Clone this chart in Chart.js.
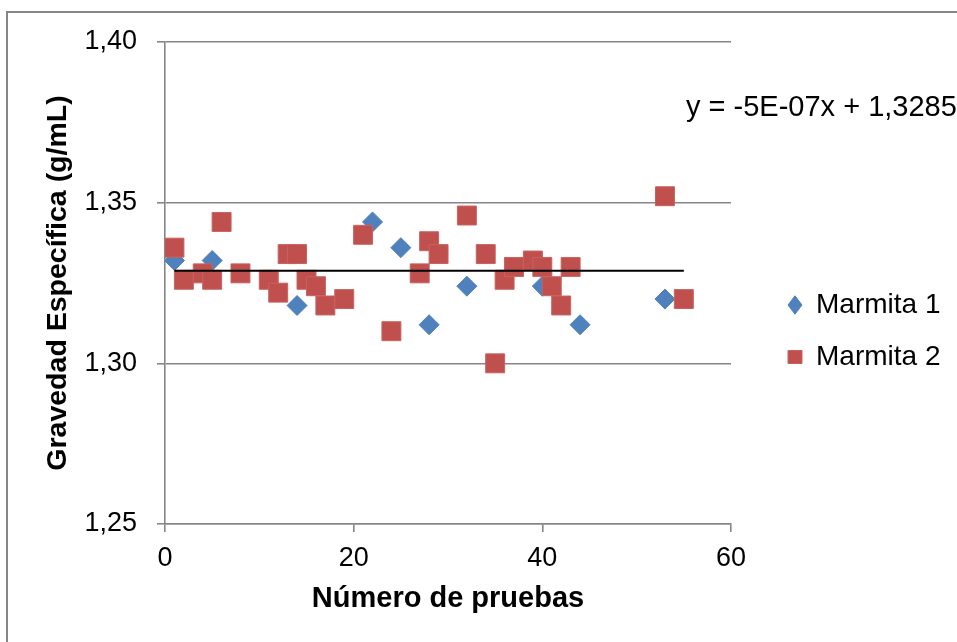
<!DOCTYPE html>
<html><head><meta charset="utf-8">
<script src="https://cdn.jsdelivr.net/npm/chart.js@4.4.1/dist/chart.umd.min.js"></script>
<style>html,body{margin:0;padding:0;background:#fff;overflow:hidden;}</style>
</head><body>
<canvas id="c" width="957" height="642"></canvas>
<script>
const marmita1X = [1, 5, 14, 22, 25, 28, 32, 40, 44, 53];
const marmita1Y = [1.332, 1.332, 1.318, 1.344, 1.336, 1.312, 1.324, 1.324, 1.312, 1.320];
const marmita2X = [1, 2, 4, 5, 6, 8, 11, 12, 13, 14, 15, 16, 17, 19, 21, 24, 27, 28, 29, 32, 34, 35, 36, 37, 39, 40, 41, 42, 43, 53, 55];
const marmita2Y = [1.336, 1.326, 1.328, 1.326, 1.344, 1.328, 1.326, 1.322, 1.334, 1.334, 1.326, 1.324, 1.318, 1.320, 1.340, 1.310, 1.328, 1.338, 1.334, 1.346, 1.334, 1.300, 1.326, 1.330, 1.332, 1.330, 1.324, 1.318, 1.330, 1.352, 1.320];
const trendX = [1, 55];
const trendY = [1.3288, 1.3288];
const xTicks = [0, 20, 40, 60];
const yTicks = [1.25, 1.30, 1.35, 1.40];
const seriesNames = ['Marmita 1', 'Marmita 2'];
const equationText = 'y = -5E-07x + 1,3285';
const xTitle = 'Número de pruebas';
const yTitle = 'Gravedad Específica (g/mL)';

const FAMILY = "'Liberation Sans', Arial, sans-serif";
const GRAY = '#868686';

function pts(xs, ys) { return xs.map((x, i) => ({x: x, y: ys[i]})); }

// legend geometry: compute padding so legend markers land where wanted
const LEG_FONT = 28, LEG_PAD = 24, LEG_BOXW = 14;
const mctx = document.createElement('canvas').getContext('2d');
mctx.font = LEG_FONT + 'px ' + FAMILY;
const legTextW = Math.max(...seriesNames.map(s => mctx.measureText(s).width));
const legendW = LEG_PAD + LEG_BOXW + LEG_FONT / 2 + legTextW + 10;
const padRight = Math.max(0, 957 - 764 - legendW);

const decor = {
  id: 'decor',
  beforeDraw(chart) {
    const ctx = chart.ctx;
    ctx.save();
    ctx.fillStyle = '#fff';
    ctx.fillRect(0, 0, chart.width, chart.height);
    ctx.strokeStyle = GRAY;
    ctx.lineWidth = 2;
    ctx.strokeRect(7, 12, chart.width + 40, chart.height + 40);
    ctx.restore();
  },
  afterDraw(chart) {
    const ctx = chart.ctx;
    ctx.save();
    ctx.font = '29px ' + FAMILY;
    ctx.fillStyle = '#000';
    ctx.textBaseline = 'alphabetic';
    ctx.textAlign = 'left';
    ctx.fillText(equationText, 686, 116);
    ctx.restore();
  }
};

new Chart(document.getElementById('c'), {
  type: 'scatter',
  data: {
    datasets: [
      {
        label: seriesNames[0],
        data: pts(marmita1X, marmita1Y),
        pointStyle: 'rectRot',
        pointRadius: 10,
        pointHoverRadius: 10,
        backgroundColor: '#4F81BD',
        borderColor: '#4F81BD',
        borderWidth: 1,
        order: 2
      },
      {
        label: seriesNames[1],
        data: pts(marmita2X, marmita2Y),
        pointStyle: 'rect',
        pointRadius: 13.4,
        pointHoverRadius: 13.4,
        backgroundColor: '#C0504D',
        borderColor: '#C8625F',
        borderWidth: 1,
        order: 1
      },
      {
        label: 'Lineal',
        data: pts(trendX, trendY),
        showLine: true,
        pointRadius: 0,
        pointHoverRadius: 0,
        borderColor: '#000',
        borderWidth: 2,
        order: 0
      }
    ]
  },
  options: {
    responsive: false,
    animation: false,
    devicePixelRatio: 1,
    layout: { padding: { left: 37, top: 42, bottom: 22, right: padRight } },
    plugins: {
      tooltip: { enabled: false },
      legend: {
        position: 'right',
        align: 'center',
        maxWidth: 400,
        labels: {
          usePointStyle: true,
          pointStyleWidth: LEG_BOXW,
          boxHeight: 13,
          padding: LEG_PAD,
          color: '#000',
          font: { family: FAMILY, size: LEG_FONT },
          filter: item => item.datasetIndex < 2,
          sort: (a, b) => a.datasetIndex - b.datasetIndex
        }
      }
    },
    scales: {
      x: {
        type: 'linear',
        min: 0, max: 60,
        afterBuildTicks: s => { s.ticks = xTicks.map(v => ({value: v})); },
        afterFit: s => { s.height = 96; },
        ticks: { color: '#000', padding: 10, maxRotation: 0, font: { family: FAMILY, size: 27 } },
        grid: { drawOnChartArea: false, drawTicks: true, tickLength: 8, color: GRAY, lineWidth: 1.6 },
        border: { display: true, color: GRAY, width: 1.6 },
        title: { display: true, text: xTitle, color: '#000', padding: { top: 4, bottom: 4 }, font: { family: FAMILY, size: 29, weight: 'bold' } }
      },
      y: {
        type: 'linear',
        min: 1.25, max: 1.40,
        afterBuildTicks: s => { s.ticks = yTicks.map(v => ({value: v})); },
        afterFit: s => { s.width = 128; },
        ticks: { color: '#000', padding: 20, font: { family: FAMILY, size: 27 }, callback: v => Number(v).toFixed(2).replace('.', ',') },
        grid: { drawTicks: true, tickLength: 8, color: GRAY, lineWidth: 1.6 },
        border: { display: true, color: GRAY, width: 1.6 },
        title: { display: true, text: yTitle, color: '#000', padding: { top: 4, bottom: 4 }, font: { family: FAMILY, size: 28.5, weight: 'bold' } }
      },
      y2: {
        type: 'linear',
        position: 'right',
        display: true,
        grid: { display: false, drawTicks: false },
        border: { display: false },
        ticks: { display: false },
        afterFit: s => { s.width = 33; }
      }
    }
  },
  plugins: [decor]
});
</script>
</body></html>
